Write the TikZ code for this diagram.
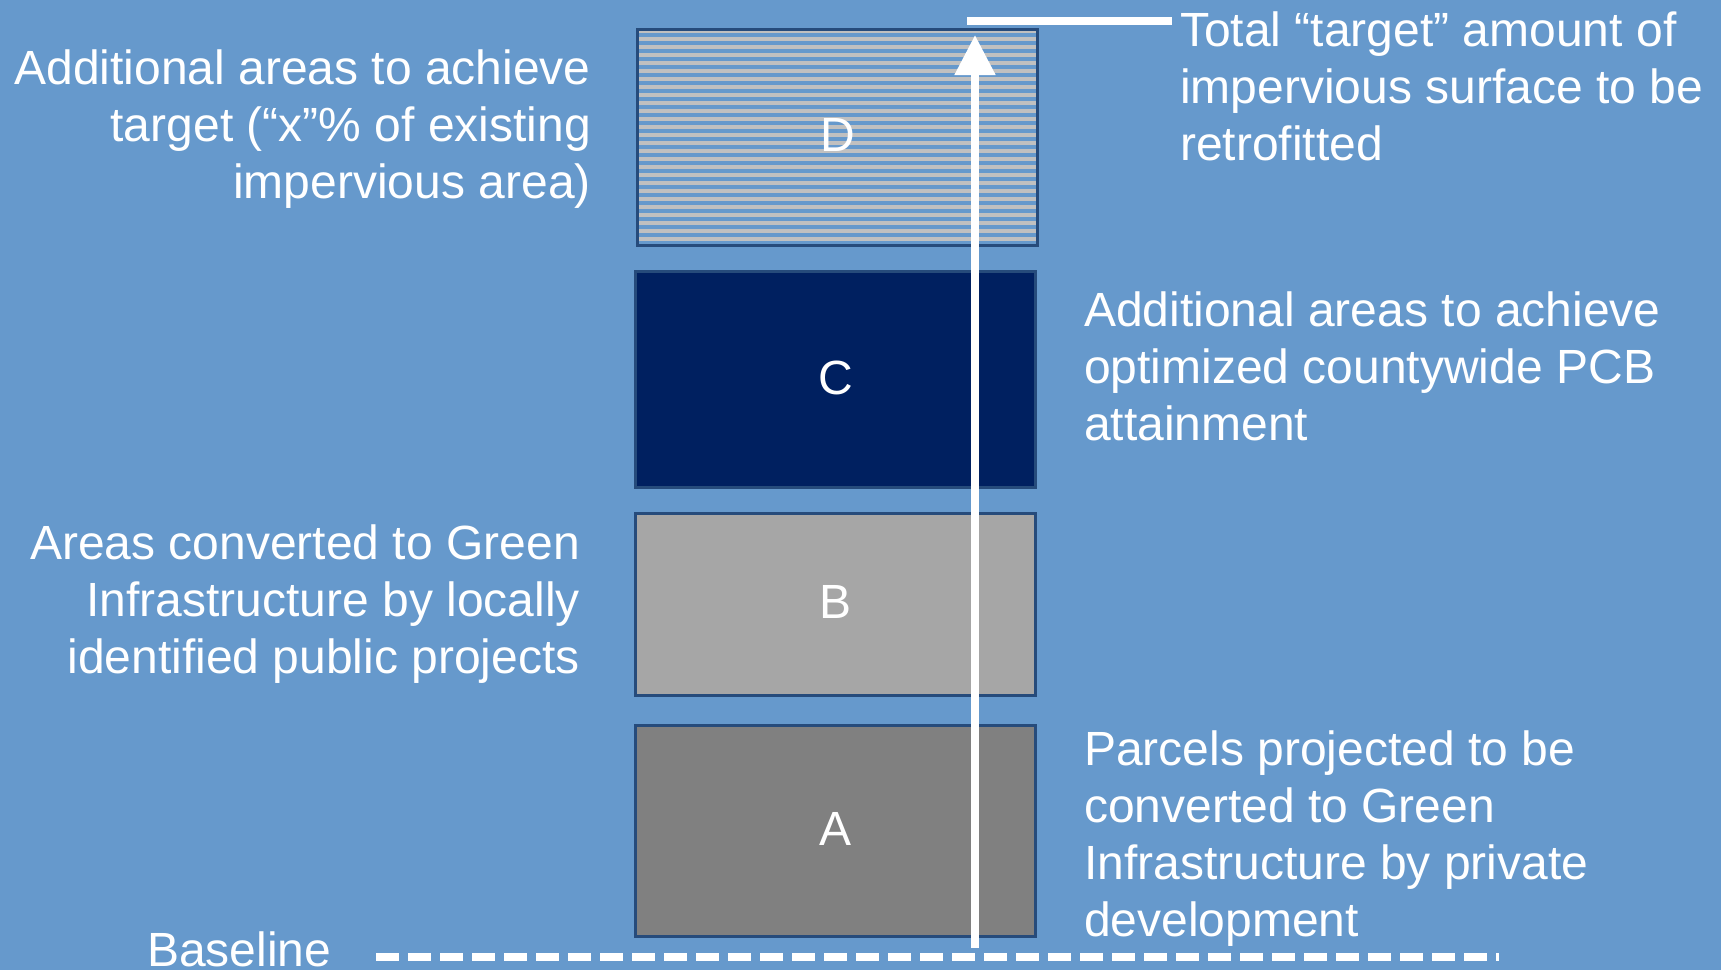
\documentclass[tikz,border=0pt]{standalone}
\usepackage{fontspec}
\setmainfont{Liberation Sans}
\usetikzlibrary{arrows.meta}
\definecolor{bgblue}{HTML}{6699CC}
\definecolor{boxborder}{HTML}{264B7B}
\definecolor{navy}{HTML}{002060}
\definecolor{darkgray}{HTML}{808080}
\definecolor{lightgray}{HTML}{A6A6A6}
\definecolor{stripe}{HTML}{C0C0C0}
\tikzset{
  bigtext/.style={text=white, font=\fontsize{48}{57}\selectfont, inner sep=0pt},
  barbox/.style={draw=boxborder, line width=3pt},
  boxletter/.style={text=white, font=\fontsize{48}{57}\selectfont, inner sep=0pt},
  whiteline/.style={draw=white, line width=8pt}
}
\begin{document}
\begin{tikzpicture}[x=1pt,y=-1pt]
\fill[bgblue] (0,0) rectangle (1721,970);
\useasboundingbox (0,0) rectangle (1721,970);

% Box D (striped)
\begin{scope}
  \clip (636,28) rectangle (1036,244);
  \foreach \yy in {31,39,...,243} {
    \draw[stripe, line width=3.5pt] (630,\yy) -- (1045,\yy);
  }
\end{scope}
\node[barbox, minimum width=400pt, minimum height=216pt, anchor=north west] (D) at (636,28) {};
\node[boxletter] at ([yshift=2.5pt]D.center) {D};

% Box C
\node[barbox, fill=navy, minimum width=400pt, minimum height=216pt, anchor=north west] (C) at (634,270) {};
\node[boxletter] at ([yshift=2pt]C.center) {C};

% Box B
\node[barbox, fill=lightgray, minimum width=400pt, minimum height=182pt, anchor=north west] (B) at (634,512) {};
\node[boxletter] at ([yshift=3pt]B.center) {B};

% Box A
\node[barbox, fill=darkgray, minimum width=400pt, minimum height=211pt, anchor=north west] (A) at (634,724) {};
\node[boxletter] at ([yshift=2.5pt]A.center) {A};

% Baseline
\coordinate (bl1) at (376,957);
\coordinate (bl2) at (1499,957);
\draw[white, line width=8pt, dash pattern=on 23pt off 9pt] (bl1) -- (bl2);

% Arrow
\coordinate (arrbot) at (975,948);
\coordinate (arrtop) at (975,35);
\draw[white, line width=8pt, -{Triangle[width=39pt,length=40pt]}] (arrbot) -- (arrtop);

% Top target line
\coordinate (tl1) at (967,21);
\coordinate (tl2) at (1172,21);
\draw[whiteline] (tl1) -- (tl2);

% Texts
\node[bigtext, align=right, anchor=north east] (ltop) at (591,50)
  {Additional areas to achieve\\target (“x”\% of existing\\impervious area)};
\node[bigtext, align=right, anchor=north east] (lmid) at (580,525)
  {Areas converted to Green\\Infrastructure by locally\\identified public projects};
\node[bigtext, align=left, anchor=north west] (rtop) at (1180,12)
  {Total “target” amount of\\impervious surface to be\\retrofitted};
\node[bigtext, align=left, anchor=north west] (rmid) at (1084,292)
  {Additional areas to achieve\\optimized countywide PCB\\attainment};
\node[bigtext, align=left, anchor=north west] (rbot) at (1084,731)
  {Parcels projected to be\\converted to Green\\Infrastructure by private\\development};
\node[bigtext, anchor=base west] (baseline) at (147,966) {Baseline};
\end{tikzpicture}
\end{document}
